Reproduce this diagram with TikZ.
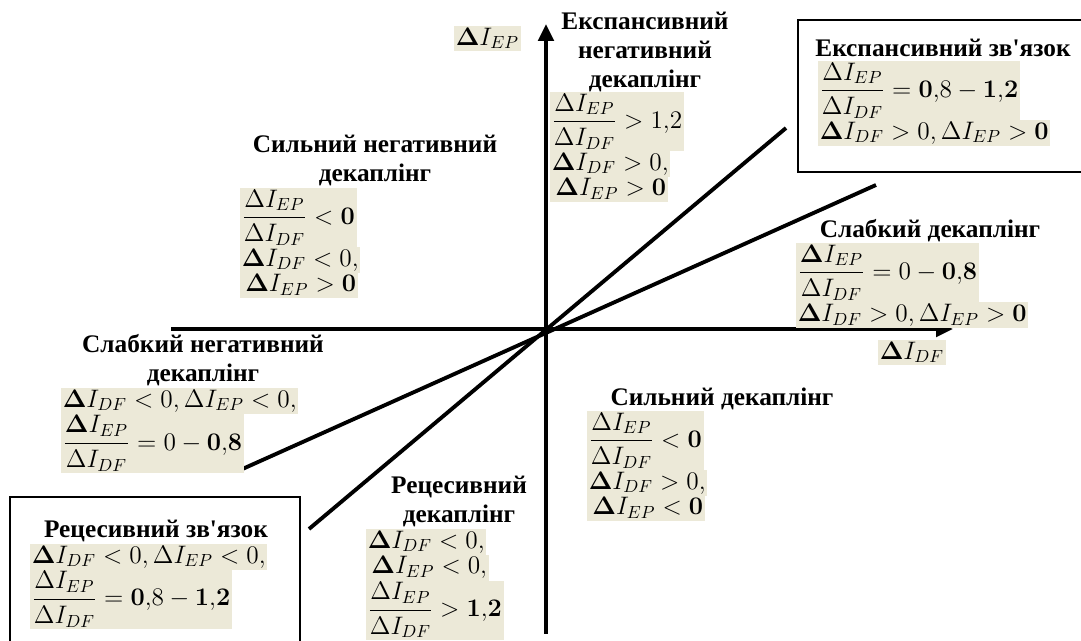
\documentclass[tikz,border=0pt]{standalone}
\usepackage[no-math]{fontspec}
\setmainfont{Liberation Serif}[Ligatures=TeXOff]
\usepackage{amsmath}
\usetikzlibrary{arrows.meta}
\definecolor{eqbg}{HTML}{ECE9D8}

\begin{document}
\begin{tikzpicture}[font=\fontsize{14.4}{16.5}\selectfont,
  axis/.style={line width=2pt,-{Triangle[length=3.4mm,width=3.1mm]}},
  ray/.style={line width=2.2pt},
  frame/.style={line width=1.1pt},
  zone/.style={font=\fontsize{14.4}{16.5}\selectfont\bfseries,align=center},
  cond/.style={fill=eqbg,inner sep=1pt,outer sep=0pt,anchor=north west}]
  \useasboundingbox (0,0) rectangle (21.62,12.82);
  \clip (0,0) rectangle (21.62,12.82);

  % Axes and rays through the origin
  \coordinate (O) at (10.92,6.24);
  \coordinate (xl) at (3.42,6.24);
  \coordinate (xr) at (19.06,6.24);
  \coordinate (yb) at (10.92,0.14);
  \coordinate (yt) at (10.92,12.34);
  \draw[axis] (xl) -- (xr);
  \draw[axis] (yb) -- (yt);
  \coordinate (a1) at (6.18,2.24);
  \coordinate (a2) at (15.72,10.26);
  \coordinate (b1) at (4.76,3.40);
  \coordinate (b2) at (17.52,9.12);
  \draw[ray] (a1) -- (a2);
  \draw[ray] (b1) -- (b2);
  \node[cond] (lEP) at (9.08,12.30) {$\mathbf{\Delta} I_{EP}$};
  \node[cond] (lDF) at (17.56,6.02) {$\mathbf{\Delta} I_{DF}$};

  % Frames of the two coupling zones
  \draw[frame] (15.96,12.42) rectangle (21.9,9.38);
  \draw[frame] (0.2,2.88) rectangle (6.0,-0.3);

  % Strong negative decoupling
  \node[zone] (hSN) at (7.50,9.62) {Сильний негативний\\декаплінг};
  \node[cond] (sn1) at (4.80,9.06) {$\dfrac{\Delta I_{EP}}{\Delta I_{DF}}<\mathbf{0}$};
  \node[cond] (sn2) at (sn1.south west) {$\mathbf{\Delta} I_{DF}<0,$};
  \node[cond] (sn3) at (sn2.south west) {\hspace{2pt}$\mathbf{\Delta} I_{EP}>\mathbf{0}$};

  % Expansive negative decoupling
  \node[zone] (hEN) at (12.90,11.78) {Експансивний\\негативний\\декаплінг};
  \node[cond] (en1) at (11.00,10.98) {$\dfrac{\Delta I_{EP}}{\Delta I_{DF}}>1{,}2$};
  \node[cond] (en2) at (en1.south west) {$\mathbf{\Delta} I_{DF}>0,$};
  \node[cond] (en3) at (en2.south west) {\hspace{2pt}$\mathbf{\Delta} I_{EP}>\mathbf{0}$};

  % Expansive coupling
  \node[zone] (hEZ) at (18.86,11.86) {Експансивний зв'язок};
  \node[cond] (ez1) at (16.36,11.60) {$\dfrac{\Delta I_{EP}}{\Delta I_{DF}}=\mathbf{0{,}}8-\mathbf{1{,}2}$};
  \node[cond] (ez2) at (ez1.south west) {$\mathbf{\Delta} I_{DF}>0,\Delta I_{EP}>\mathbf{0}$};

  % Weak decoupling
  \node[zone] (hSD) at (18.60,8.20) {Слабкий декаплінг};
  \node[cond] (sd1) at (15.92,7.96) {$\dfrac{\mathbf{\Delta} I_{EP}}{\Delta I_{DF}}=0-\mathbf{0{,}8}$};
  \node[cond] (sd2) at (sd1.south west) {$\mathbf{\Delta} I_{DF}>0,\Delta I_{EP}>\mathbf{0}$};

  % Weak negative decoupling
  \node[zone] (hSNg) at (4.06,5.62) {Слабкий негативний\\декаплінг};
  \node[cond] (sg1) at (1.22,5.06) {$\mathbf{\Delta} I_{DF}<0,\Delta I_{EP}<0,$};
  \node[cond] (sg2) at (sg1.south west) {$\dfrac{\mathbf{\Delta} I_{EP}}{\Delta I_{DF}}=0-\mathbf{0{,}8}$};

  % Recessive coupling
  \node[zone] (hRZ) at (3.12,2.20) {Рецесивний зв'язок};
  \node[cond] (rz1) at (0.60,1.94) {$\mathbf{\Delta} I_{DF}<0,\Delta I_{EP}<0,$};
  \node[cond] (rz2) at (rz1.south west) {$\dfrac{\Delta I_{EP}}{\Delta I_{DF}}=\mathbf{0{,}}8-\mathbf{1{,}2}$};

  % Recessive decoupling
  \node[zone] (hRD) at (9.18,2.80) {Рецесивний\\декаплінг};
  \node[cond] (rd1) at (7.32,2.24) {$\mathbf{\Delta} I_{DF}<0,$};
  \node[cond] (rd2) at (rd1.south west) {\hspace{2pt}$\mathbf{\Delta} I_{EP}<0,$};
  \node[cond] (rd3) at (rd2.south west) {$\dfrac{\Delta I_{EP}}{\Delta I_{DF}}>\mathbf{1{,}2}$};

  % Strong decoupling
  \node[zone] (hSDk) at (14.44,4.84) {Сильний декаплінг};
  \node[cond] (sk1) at (11.74,4.60) {$\dfrac{\Delta I_{EP}}{\Delta I_{DF}}<\mathbf{0}$};
  \node[cond] (sk2) at (sk1.south west) {$\mathbf{\Delta} I_{DF}>0,$};
  \node[cond] (sk3) at (sk2.south west) {\hspace{2pt}$\mathbf{\Delta} I_{EP}<\mathbf{0}$};
\end{tikzpicture}
\end{document}
